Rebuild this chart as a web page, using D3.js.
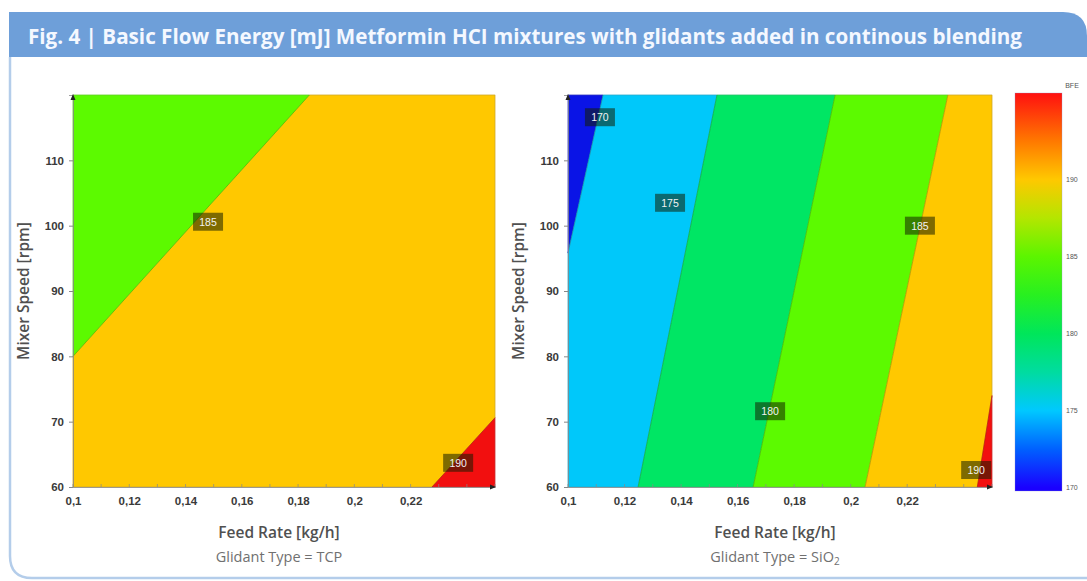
<!DOCTYPE html>
<html>
<head>
<meta charset="utf-8">
<script src="https://cdn.jsdelivr.net/npm/d3@7"></script>
<style>
  html, body { margin: 0; padding: 0; background: #ffffff; }
  svg { display: block; }
</style>
</head>
<body>
<script>
// Axis domains and tick labels
const feedDomain = [0.1, 0.25];
const speedDomain = [60, 120];
const feedTicks = [0.1, 0.12, 0.14, 0.16, 0.18, 0.2, 0.22];
const speedTicks = [60, 70, 80, 90, 100, 110];
const bfeTicks = [170, 175, 180, 185, 190];
const bfeDomain = [169.8, 195.6];

// Contour bands for Glidant Type = TCP: [band lower level, vertices as [feed, speed]]
const tcpBands = [
  { level: 185, pts: [[0.1, 60], [0.1, 80], [0.184, 120], [0.25, 120], [0.25, 70.6], [0.2276, 60]] },
  { level: 180, pts: [[0.1, 80], [0.1, 120], [0.184, 120]] },
  { level: 190, pts: [[0.2276, 60], [0.25, 70.6], [0.25, 60]] }
];
// Contour bands for Glidant Type = SiO2
const sio2Bands = [
  { level: 165, pts: [[0.1, 95.8], [0.1, 120], [0.1124, 120]] },
  { level: 170, pts: [[0.1, 60], [0.1, 95.8], [0.1124, 120], [0.1527, 120], [0.1248, 60]] },
  { level: 175, pts: [[0.1248, 60], [0.1527, 120], [0.1945, 120], [0.1655, 60]] },
  { level: 180, pts: [[0.1655, 60], [0.1945, 120], [0.2344, 120], [0.2051, 60]] },
  { level: 185, pts: [[0.2051, 60], [0.2344, 120], [0.25, 120], [0.25, 74], [0.2448, 60]] },
  { level: 190, pts: [[0.2448, 60], [0.25, 74], [0.25, 60]] }
];
// Contour lines (iso-levels) as [feed, speed] end points
const tcpLines = [
  [[0.1, 80], [0.184, 120]],
  [[0.2276, 60], [0.25, 70.6]]
];
const sio2Lines = [
  [[0.1, 95.8], [0.1124, 120]],
  [[0.1248, 60], [0.1527, 120]],
  [[0.1655, 60], [0.1945, 120]],
  [[0.2051, 60], [0.2344, 120]],
  [[0.2448, 60], [0.25, 74]]
];
// Contour level labels: [text, feed, speed]
const tcpLabels = [["185", 0.148, 100.6], ["190", 0.2369, 63.7]];
const sio2Labels = [["170", 0.1113, 116.6], ["175", 0.1361, 103.5], ["180", 0.1715, 71.6], ["185", 0.2245, 100], ["190", 0.2444, 62.6]];

// Band colours keyed by lower level
const bandColor = {
  165: "#0a14e6",
  170: "#00c8fa",
  175: "#00e664",
  180: "#5cfa00",
  185: "#ffc800",
  190: "#f20f0f"
};
// Colour bar stops
const barStops = [
  [170, "#1a00ff"], [172.5, "#0060ff"], [175, "#00c8ff"], [177.5, "#00dca0"],
  [180, "#00e65a"], [182.5, "#28f020"], [185, "#5cf500"], [187.5, "#b4e600"],
  [190, "#ffc800"], [192.5, "#ff7800"], [195.6, "#ff1010"]
];

const W = 1087, H = 581;
const svg = d3.select("body").append("svg").attr("width", W).attr("height", H);

// Frame
svg.append("path")
  .attr("d", `M10,57 L10,556 Q10,578 32,578 L1087,578`)
  .attr("fill", "none").attr("stroke", "#b4cdea").attr("stroke-width", 2.5);
svg.append("path")
  .attr("d", `M9,12 L1063,12 Q1087,12 1087,36 L1087,57 L9,57 Z`)
  .attr("fill", "#6e9fd9");
svg.append("text")
  .attr("x", 28).attr("y", 44)
  .attr("fill", "#f4f8ff")
  .attr("font-family", "'Open Sans', sans-serif")
  .attr("font-weight", 700).attr("font-size", 21)
  .attr("textLength", 994).attr("lengthAdjust", "spacingAndGlyphs")
  .text("Fig. 4 | Basic Flow Energy [mJ] Metformin HCI mixtures with glidants added in continous blending");

function panel(left, right, bands, lines, labels, glidant, isSiO2) {
  const top = 95, bottom = 487;
  const x = d3.scaleLinear().domain(feedDomain).range([left, right]);
  const y = d3.scaleLinear().domain(speedDomain).range([bottom, top]);
  const g = svg.append("g");

  g.selectAll("path.band").data(bands).join("path")
    .attr("class", "band")
    .attr("d", d => "M" + d.pts.map(p => [x(p[0]), y(p[1])].join(",")).join("L") + "Z")
    .attr("fill", d => bandColor[d.level])
    .attr("stroke", d => bandColor[d.level]).attr("stroke-width", 0.6);

  g.selectAll("line.iso").data(lines).join("line")
    .attr("class", "iso")
    .attr("x1", d => x(d[0][0])).attr("y1", d => y(d[0][1]))
    .attr("x2", d => x(d[1][0])).attr("y2", d => y(d[1][1]))
    .attr("stroke", "rgba(60,60,0,0.35)").attr("stroke-width", 0.8);

  // frame of plot area
  g.append("rect").attr("x", left).attr("y", top)
    .attr("width", right - left).attr("height", bottom - top)
    .attr("fill", "none").attr("stroke", "rgba(120,120,120,0.35)").attr("stroke-width", 0.8);

  // Level labels
  const lab = g.selectAll("g.lab").data(labels).join("g")
    .attr("class", "lab")
    .attr("transform", d => `translate(${x(d[1])},${y(d[2])})`);
  lab.append("rect").attr("x", -15).attr("y", -9).attr("width", 30).attr("height", 18)
    .attr("fill", "rgba(20,30,0,0.55)");
  lab.append("text").attr("text-anchor", "middle").attr("y", 4)
    .attr("fill", "#f2f2f2").attr("font-family", "'Liberation Sans', Arial, sans-serif")
    .attr("font-size", 10.5).text(d => d[0]);

  // Axes
  const xAxis = d3.axisBottom(x).tickValues(feedTicks).tickSize(0).tickPadding(10)
    .tickFormat(d => d3.format("~g")(d).replace(".", ","));
  const gx = g.append("g").attr("transform", `translate(0,${bottom})`).call(xAxis);
  gx.select(".domain").attr("stroke", "#888").attr("stroke-width", 0.8);
  gx.selectAll("text").attr("font-family", "'Liberation Sans', Arial, sans-serif")
    .attr("font-weight", "bold").attr("font-size", 11.5).attr("fill", "#3a3a3a");
  const minorX = d3.range(0.1, 0.2501, 0.01);
  g.selectAll("line.mx").data(minorX).join("line").attr("class", "mx")
    .attr("x1", d => x(d)).attr("x2", d => x(d))
    .attr("y1", bottom - 3).attr("y2", bottom)
    .attr("stroke", "#888").attr("stroke-width", 0.7);

  const yAxis = d3.axisLeft(y).tickValues(speedTicks).tickSize(4).tickPadding(5);
  const gy = g.append("g").attr("transform", `translate(${left},0)`).call(yAxis);
  gy.select(".domain").attr("stroke", "#888").attr("stroke-width", 0.8);
  gy.selectAll(".tick line").attr("stroke", "#888");
  gy.selectAll("text").attr("font-family", "'Liberation Sans', Arial, sans-serif")
    .attr("font-weight", "bold").attr("font-size", 11.5).attr("fill", "#3a3a3a");

  // axis arrow heads
  g.append("path").attr("d", `M${left - 2.5},${top + 5} L${left},${top - 1} L${left + 2.5},${top + 5} Z`).attr("fill", "#222");
  g.append("path").attr("d", `M${right - 5},${bottom - 2.5} L${right + 1},${bottom} L${right - 5},${bottom + 2.5} Z`).attr("fill", "#222");

  // Axis titles
  const cx = (left + right) / 2 - 5;
  g.append("text").attr("x", cx).attr("y", 538).attr("text-anchor", "middle")
    .attr("font-family", "'Open Sans', sans-serif").attr("font-size", 15.5).attr("font-weight", 600)
    .attr("fill", "#505050").text("Feed Rate [kg/h]");
  const gt = g.append("text").attr("x", cx).attr("y", 562).attr("text-anchor", "middle")
    .attr("font-family", "'Open Sans', sans-serif").attr("font-size", 14.5)
    .attr("fill", "#707070");
  if (isSiO2) {
    gt.append("tspan").text("Glidant Type = SiO");
    gt.append("tspan").attr("font-size", 10).attr("dy", 3).text("2");
  } else {
    gt.text("Glidant Type = " + glidant);
  }
  g.append("text")
    .attr("transform", `translate(${left - 44},${(top + bottom) / 2}) rotate(-90)`)
    .attr("text-anchor", "middle")
    .attr("font-family", "'Open Sans', sans-serif").attr("font-size", 15.5).attr("font-weight", 600)
    .attr("fill", "#505050").text("Mixer Speed [rpm]");
}

panel(73, 495, tcpBands, tcpLines, tcpLabels, "TCP", false);
panel(568, 992, sio2Bands, sio2Lines, sio2Labels, "SiO2", true);

// Colour bar
const barTop = 93, barBottom = 491, barLeft = 1015, barRight = 1062;
const cy = d3.scaleLinear().domain(bfeDomain).range([barBottom, barTop]);
const defs = svg.append("defs");
const grad = defs.append("linearGradient").attr("id", "bfeGrad")
  .attr("x1", 0).attr("y1", 1).attr("x2", 0).attr("y2", 0);
grad.selectAll("stop").data(barStops).join("stop")
  .attr("offset", d => (d[0] - bfeDomain[0]) / (bfeDomain[1] - bfeDomain[0]))
  .attr("stop-color", d => d[1]);
svg.append("rect").attr("x", barLeft).attr("y", barTop)
  .attr("width", barRight - barLeft).attr("height", barBottom - barTop)
  .attr("fill", "url(#bfeGrad)").attr("stroke", "rgba(150,150,200,0.5)").attr("stroke-width", 0.6);
svg.selectAll("text.cb").data(bfeTicks).join("text").attr("class", "cb")
  .attr("x", barRight + 4).attr("y", d => cy(d) + 2.5)
  .attr("font-family", "'Liberation Sans', Arial, sans-serif").attr("font-size", 7)
  .attr("fill", "#555").text(d => d);
svg.append("text").attr("x", 1072).attr("y", 88).attr("text-anchor", "middle")
  .attr("font-family", "'Liberation Sans', Arial, sans-serif").attr("font-size", 7)
  .attr("fill", "#555").text("BFE");
</script>
</body>
</html>
